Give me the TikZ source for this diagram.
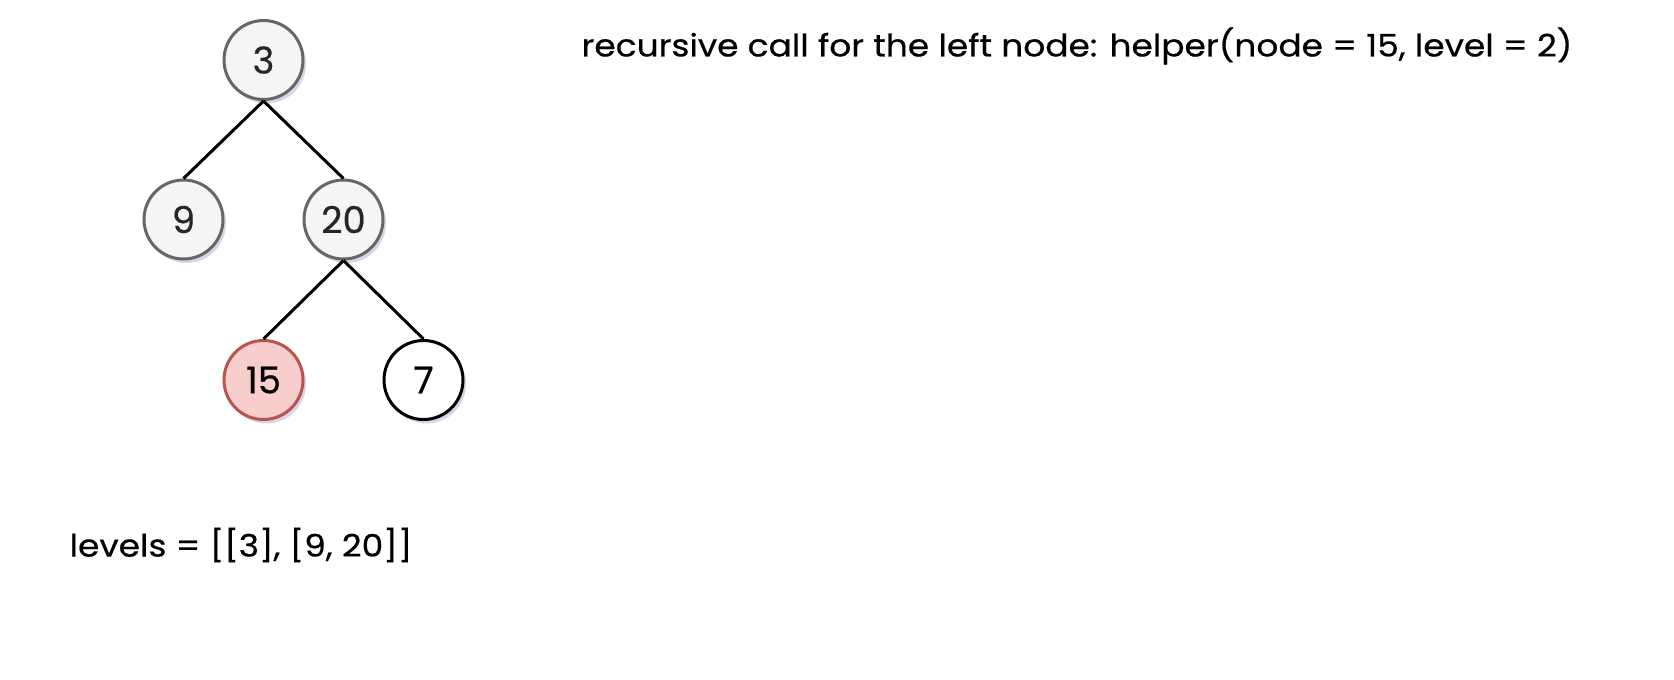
\documentclass[tikz,border=0pt]{standalone}
\usepackage{fontspec}
\setmainfont{Poppins}[FakeBold=0.5]
\newfontfamily\labelfont{Poppins}[FakeStretch=1.11, FakeBold=0.5]
\usetikzlibrary{shadows}
\definecolor{gfill}{HTML}{F5F5F5}
\definecolor{gline}{HTML}{666666}
\definecolor{rfill}{HTML}{F8CECC}
\definecolor{rline}{HTML}{B85450}
\definecolor{shadowc}{HTML}{9FA6C8}
\tikzset{
  treenode/.style={circle, minimum size=79pt, inner sep=0pt, line width=3pt,
    font=\fontsize{37}{42}\selectfont,
    drop shadow={shadow xshift=3pt, shadow yshift=-4pt, fill=shadowc, opacity=0.45}},
  graynode/.style={treenode, draw=gline, fill=gfill, text=black!85},
  rednode/.style={treenode, draw=rline, fill=rfill},
  whitenode/.style={treenode, draw=black, fill=white},
  edge/.style={line width=3pt, draw=black},
  label/.style={font=\labelfont\fontsize{31}{38}\selectfont, inner sep=0pt}
}
\begin{document}
\begin{tikzpicture}[x=1pt,y=-1pt]
\useasboundingbox (0,0) rectangle (1674,680);
\node[graynode] (n3) at (263.5,60) {3};
\node[graynode] (n9) at (183.5,219.5) {9};
\node[graynode] (n20) at (343.5,219.5) {20};
\node[rednode] (n15) at (263.5,380) {15};
\node[whitenode] (n7) at (423.5,380) {7};
\draw[edge] (n3.south) -- (n9.north);
\draw[edge] (n3.south) -- (n20.north);
\draw[edge] (n20.south) -- (n15.north);
\draw[edge] (n20.south) -- (n7.north);
\node[label] (title) at (1077,46) {recursive call for the left node: helper(node = 15, level = 2)};
\node[label] (levels) at (241,545) {levels = [[3], [9, 20]]};
\end{tikzpicture}
\end{document}
